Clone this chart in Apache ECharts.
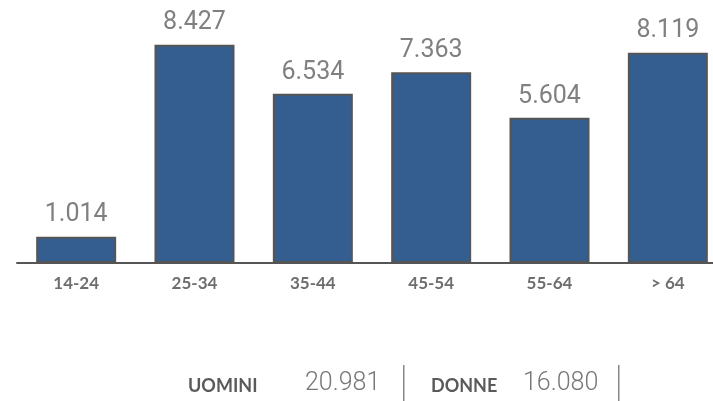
<!DOCTYPE html>
<html>
<head>
<meta charset="utf-8">
<script src="https://cdn.jsdelivr.net/npm/echarts@6/dist/echarts.min.js"></script>
<style>
  html, body { margin: 0; padding: 0; background: #fff; }
  #chart { width: 713px; height: 401px; }
</style>
</head>
<body>
<div id="chart"></div>
<script>
// fasce d'età
let categories = ["14-24", "25-34", "35-44", "45-54", "55-64", "> 64"];
let values = [1014, 8427, 6534, 7363, 5604, 8119];
// totali
let totalLabels = ["UOMINI", "DONNE"];
let totalValues = [20981, 16080];

// 8427 -> "8.427"
let fmt = (v) => String(v).replace(/\B(?=(\d{3})+(?!\d))/g, ".");

let chart = echarts.init(document.getElementById("chart"), null, { renderer: "canvas" });

let option = {
    backgroundColor: "#fff",
    animation: false,
    // la griglia esce a destra dal canvas, come nell'originale
    grid: { left: 17, width: 710, top: 4, height: 259, outerBoundsMode: "none", containLabel: false },
    xAxis: {
        type: "category",
        data: categories,
        axisLine: { lineStyle: { color: "#555", width: 2 } },
        axisTick: { show: false },
        axisLabel: {
            color: "#6e6e6e",
            fontFamily: "Lato",
            fontWeight: "bold",
            fontSize: 17,
            margin: 12
        }
    },
    yAxis: {
        type: "value",
        min: 0,
        max: 10000,
        show: false
    },
    series: [{
        type: "bar",
        data: values,
        barWidth: "67.6%",
        itemStyle: {
            color: "#345e8f",
            borderColor: "#555",
            borderWidth: 2
        },
        label: {
            show: true,
            position: "top",
            distance: 9,
            color: "#808080",
            fontFamily: "Roboto",
            fontSize: 25,
            formatter: (p) => fmt(p.value)
        }
    }],
    graphic: [
        { type: "text", left: 188, top: 377, style: { text: totalLabels[0], fill: "#5a5a5a", font: "bold 18px Lato" } },
        { type: "text", left: 305, top: 371, style: { text: fmt(totalValues[0]), fill: "#777", font: "300 25px Roboto" } },
        { type: "rect", shape: { x: 403, y: 365, width: 1.5, height: 36 }, style: { fill: "#888" } },
        { type: "text", left: 431, top: 377, style: { text: totalLabels[1], fill: "#5a5a5a", font: "bold 18px Lato" } },
        { type: "text", left: 523, top: 371, style: { text: fmt(totalValues[1]), fill: "#777", font: "300 25px Roboto" } },
        { type: "rect", shape: { x: 618, y: 365, width: 1.5, height: 36 }, style: { fill: "#888" } }
    ]
};

chart.setOption(option);
</script>
</body>
</html>
